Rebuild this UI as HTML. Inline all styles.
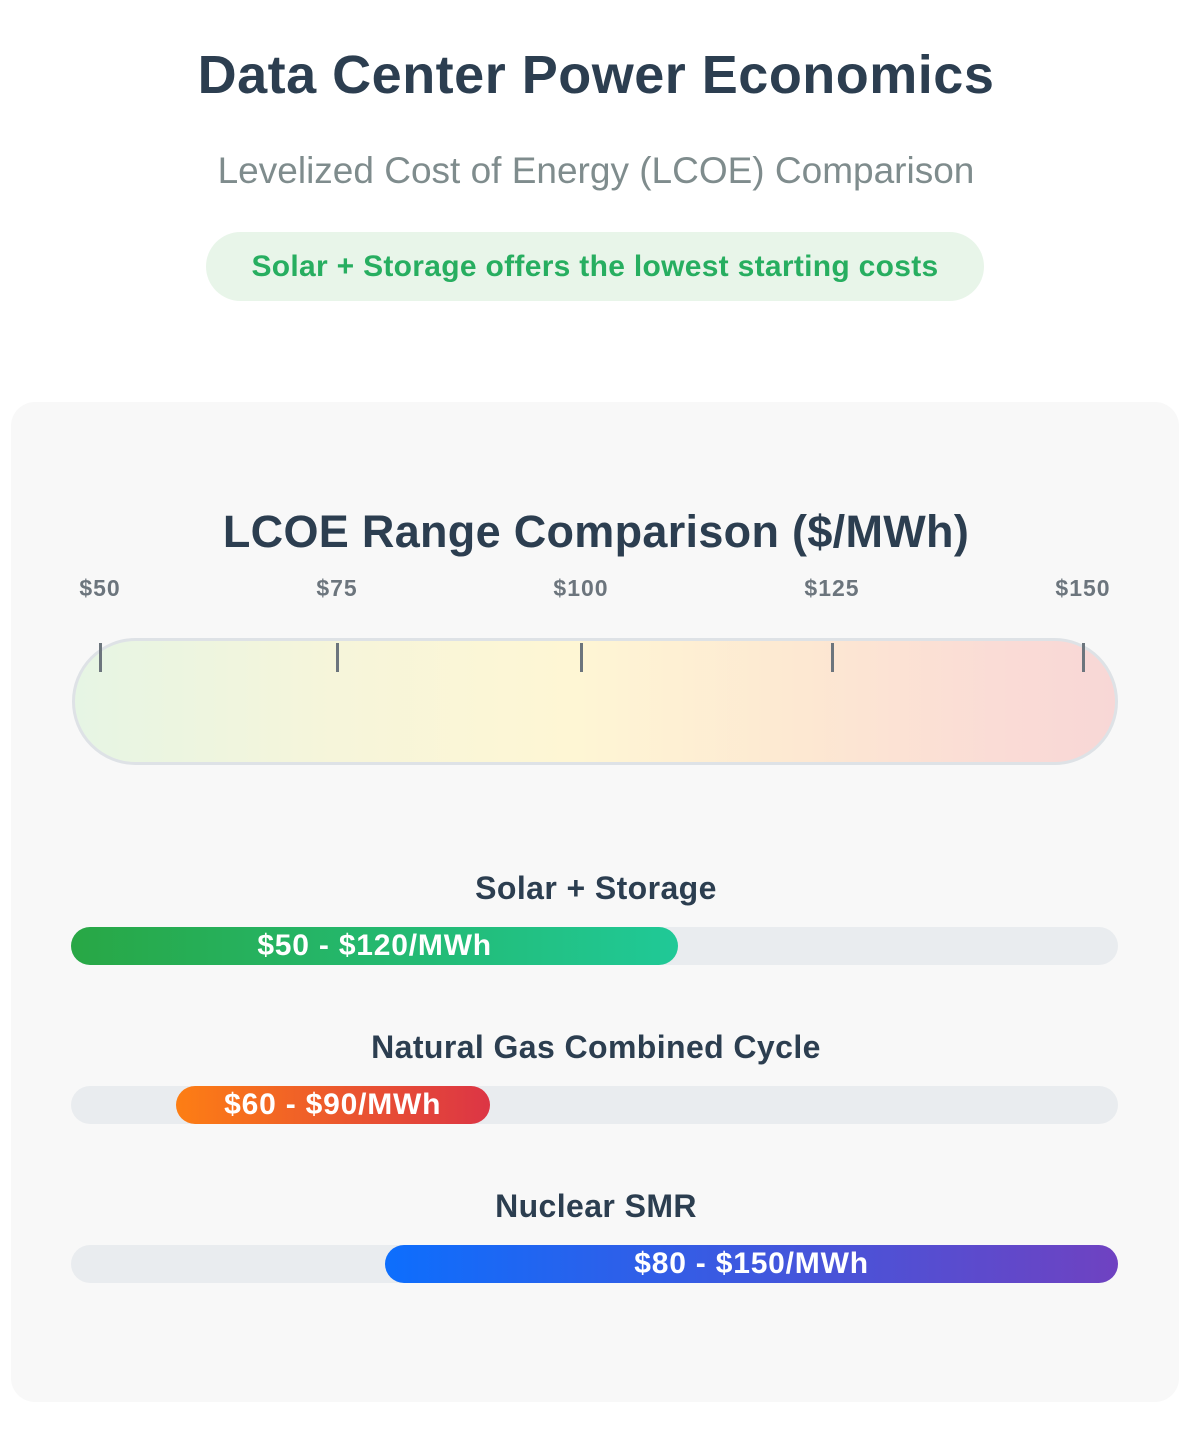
<!DOCTYPE html>
<html><head><meta charset="utf-8">
<style>
*{margin:0;padding:0;box-sizing:border-box}
body{width:1192px;height:1436px;background:#fff;font-family:"Liberation Sans",sans-serif;position:relative;overflow:hidden}
.abs{position:absolute}
#title{left:0;width:1192px;top:44px;text-align:center;font-size:54px;font-weight:bold;color:#2c3e50;letter-spacing:0.5px}
#sub{left:0;width:1192px;top:150px;text-align:center;font-size:37px;color:#7f8c8d}
#badge{left:206px;top:232px;width:778px;height:69px;border-radius:35px;background:#e8f5e9;color:#27ae60;font-weight:bold;font-size:30px;line-height:69px;text-align:center;letter-spacing:0.3px}
#card{left:11px;top:402px;width:1168px;height:1000px;background:#f8f8f8;border-radius:24px}
#ctitle{left:0;width:1192px;top:506px;text-align:center;font-size:45px;font-weight:bold;color:#2c3e50;letter-spacing:0.3px}
#labels{left:76px;top:575px;width:1038px;display:flex;justify-content:space-between;font-size:23px;font-weight:bold;color:#6c757d;letter-spacing:1px}
#labels span{text-align:center;white-space:nowrap}
#gauge{left:72px;top:638px;width:1046px;height:127px;border-radius:64px;border:3px solid #dee2e6;background:linear-gradient(90deg,#e6f5e4 0%,#f6f5da 25%,#fef6d4 48%,#fde8d2 70%,#fadbd6 90%,#f8d7d6 100%)}
.tick{width:3px;height:29px;top:643px;background:#6c757d}
.rowlabel{left:0;width:1192px;text-align:center;font-size:32px;font-weight:bold;color:#2c3e50;letter-spacing:0.4px}
.track{left:71px;width:1047px;height:38px;border-radius:19px;background:#e9ecef}
.fill{position:absolute;top:0;height:38px;border-radius:19px;color:#fff;font-weight:bold;font-size:30px;line-height:38px;text-align:center;white-space:nowrap;letter-spacing:0.8px}
</style></head><body>
<div class="abs" id="title">Data Center Power Economics</div>
<div class="abs" id="sub">Levelized Cost of Energy (LCOE) Comparison</div>
<div class="abs" id="badge">Solar + Storage offers the lowest starting costs</div>
<div class="abs" id="card"></div>
<div class="abs" id="ctitle">LCOE Range Comparison ($/MWh)</div>
<div class="abs" id="labels"></div>
<div class="abs" id="gauge"></div>
<div id="rows"></div>
<script>
const tickValues=[50,75,100,125,150];
const tickLabels=["$50","$75","$100","$125","$150"];
const categories=["Solar + Storage","Natural Gas Combined Cycle","Nuclear SMR"];
const lowValues=[50,60,80];
const highValues=[108,90,150];
const rangeLabels=["$50 - $120/MWh","$60 - $90/MWh","$80 - $150/MWh"];
const gradients=[["#28a745","#20c997"],["#fd7e14","#dc3545"],["#0d6efd","#6f42c1"]];
const dMin=50, dMax=150;
function xPct(v){return (v-dMin)/(dMax-dMin)*100;}
const lab=document.getElementById('labels');
tickLabels.forEach((t,i)=>{
  const s=document.createElement('span');
  
  
  s.style.width=(t.length<4?48:62)+'px';
  s.textContent=t;lab.appendChild(s);
});
const spans=lab.querySelectorAll('span');
spans.forEach(s=>{
  const r=s.getBoundingClientRect();
  const t=document.createElement('div');
  t.className='abs tick';
  
  
  t.style.left=(r.left+r.width/2-1.5)+'px';
  document.body.appendChild(t);
});
const rows=document.getElementById('rows');
categories.forEach((c,i)=>{
  const top=888-19+i*159;
  const l=document.createElement('div');
  l.className='abs rowlabel';
  
  
  l.style.top=(top+1)+'px';l.textContent=c;rows.appendChild(l);
  const tr=document.createElement('div');
  tr.className='abs track';
  
  
  tr.style.top=(927+i*159)+'px';
  const f=document.createElement('div');
  f.className='fill';
  
  
  const a=xPct(lowValues[i]),b=xPct(highValues[i]);
  f.style.left=a+'%';f.style.width=(b-a)+'%';
  f.style.background='linear-gradient(90deg,'+gradients[i][0]+','+gradients[i][1]+')';
  f.textContent=rangeLabels[i];
  tr.appendChild(f);rows.appendChild(tr);
});
</script>
</body></html>
